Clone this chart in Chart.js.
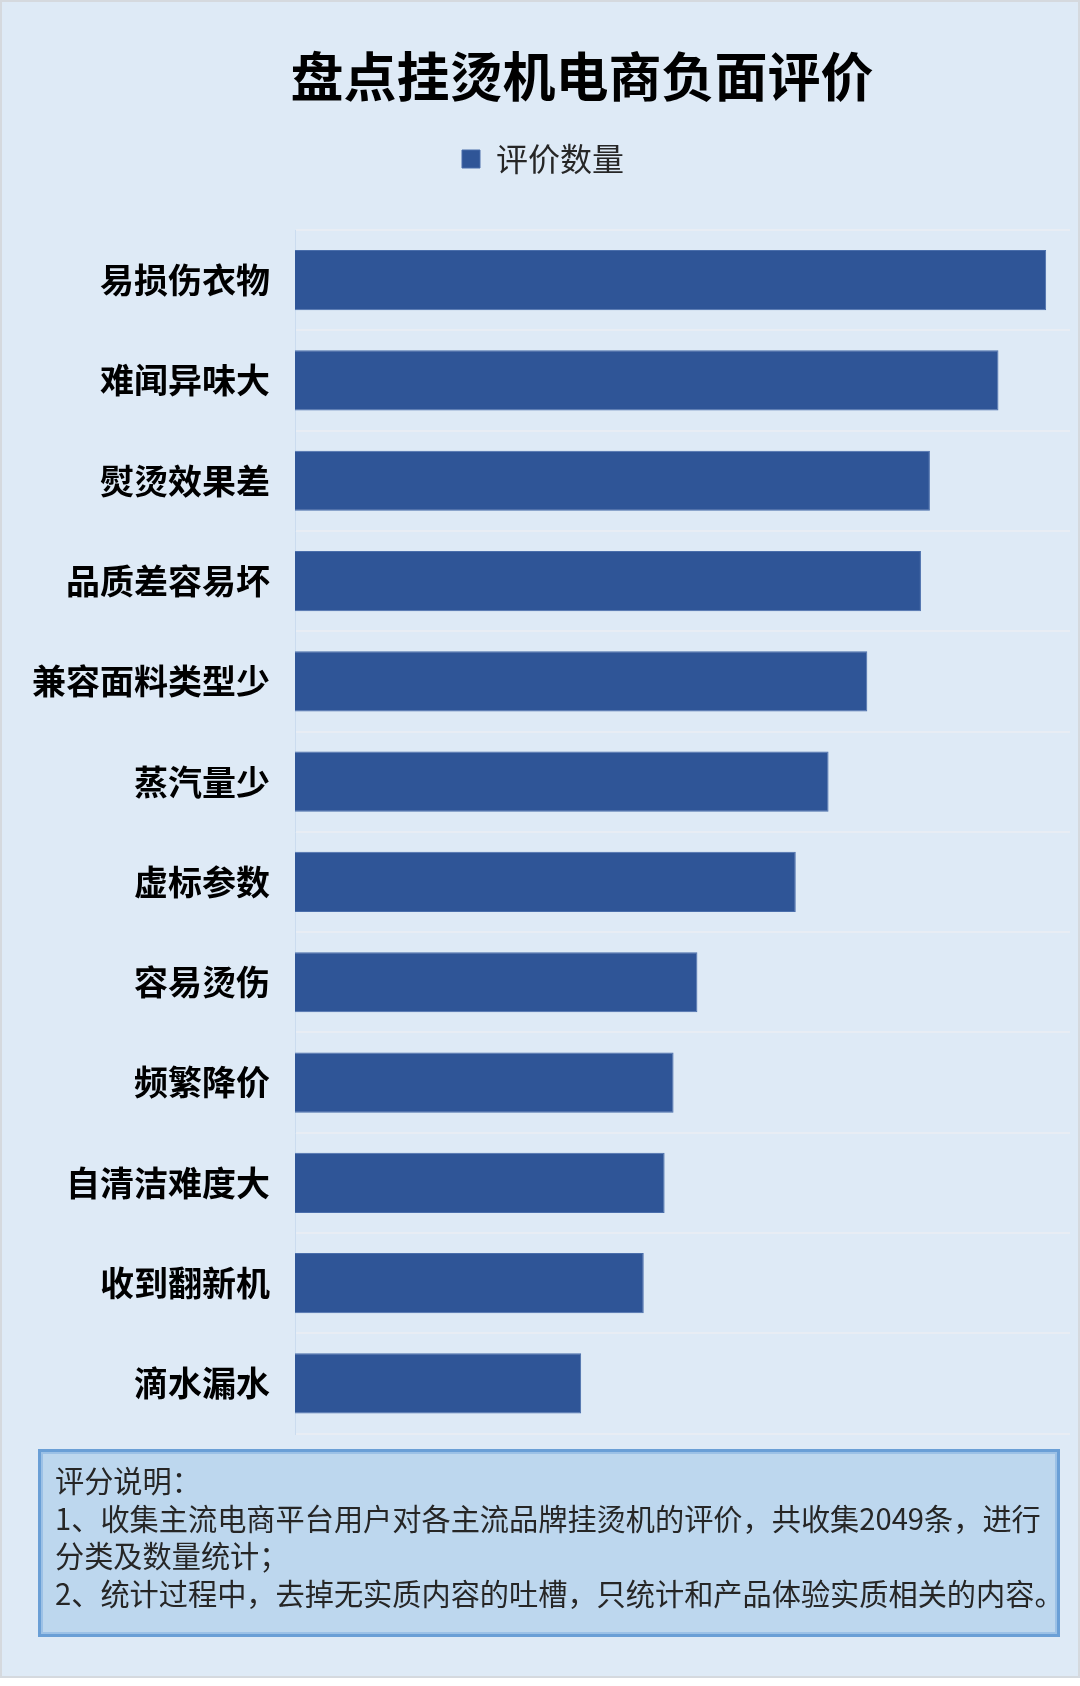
<!DOCTYPE html>
<html>
<head>
<meta charset="utf-8">
<script src="https://cdn.jsdelivr.net/npm/chart.js@4.4.1/dist/chart.umd.min.js"></script>
<style>
  body { margin: 0; background: #fff; }
  #panel {
    position: absolute; left: 0; top: 0;
    width: 1076px; height: 1674px;
    background: #deeaf6;
    border: 2px solid #d5d9de;
  }
  #chart-wrap { position: absolute; left: 0; top: 0; width: 1076px; height: 1477px; }
  #note {
    position: absolute; left: 36px; top: 1447px;
    width: 1022px; height: 188px;
    background: #bdd7ee;
    border: 3px solid #6a9fd6;
    box-shadow: inset 0 0 0 2px #9cc1e6;
    font-family: "Noto Sans CJK SC", sans-serif;
    font-size: 29.2px; line-height: 37.5px;
    color: #262626;
    padding: 9px 0 0 14px;
    box-sizing: border-box;
    white-space: nowrap;
  }
</style>
</head>
<body>
<div id="panel">
  <div id="chart-wrap"><canvas id="barChart"></canvas></div>
  <div id="note">评分说明：<br>1、收集主流电商平台用户对各主流品牌挂烫机的评价，共收集2049条，进行<br>分类及数量统计；<br>2、统计过程中，去掉无实质内容的吐槽，只统计和产品体验实质相关的内容。</div>
</div>
<script>
// data (total 2049 reviews)
const categories = ['易损伤衣物', '难闻异味大', '熨烫效果差', '品质差容易坏', '兼容面料类型少', '蒸汽量少',
    '虚标参数', '容易烫伤', '频繁降价', '自清洁难度大', '收到翻新机', '滴水漏水'];
const reviewCounts = [252, 236, 213, 210, 192, 179, 168, 135, 127, 124, 117, 96];
const seriesName = '评价数量';
const chartTitle = '盘点挂烫机电商负面评价';

const FONT = '"Noto Sans CJK SC", sans-serif';

// title is drawn a bit right of centre, like the original
const titlePlugin = {
    id: 'shiftedTitle',
    afterDraw(chart) {
        const ctx = chart.ctx;
        ctx.save();
        ctx.font = 'bold 53px ' + FONT;
        ctx.fillStyle = '#000';
        ctx.textAlign = 'center';
        ctx.textBaseline = 'middle';
        ctx.fillText(chartTitle, 580, 75);
        ctx.restore();
    }
};

const ctx = document.getElementById('barChart').getContext('2d');
const barChart = new Chart(ctx, {
    type: 'bar',
    data: {
        labels: categories,
        datasets: [{
            label: seriesName,
            data: reviewCounts,
            backgroundColor: '#2f5597',
            borderColor: '#4a6eab',
            borderWidth: 1,
            barPercentage: 0.6,
            categoryPercentage: 1
        }]
    },
    options: {
        indexAxis: 'y',
        responsive: true,
        maintainAspectRatio: false,
        animation: false,
        layout: { padding: { top: 141, left: 14, right: 8, bottom: 13 } },
        plugins: {
            title: { display: false },
            tooltip: { enabled: false },
            legend: {
                position: 'top',
                labels: {
                    boxWidth: 18,
                    boxHeight: 18,
                    padding: 0,
                    color: '#262626',
                    font: { family: FONT, size: 32 }
                }
            }
        },
        scales: {
            x: {
                position: 'top',
                min: 0,
                max: 260,
                ticks: { display: false },
                grid: { display: false },
                border: { display: false },
                afterFit(scale) { scale.height = 45; }
            },
            y: {
                ticks: {
                    color: '#000',
                    padding: 25,
                    font: { family: FONT, size: 34, weight: 'bold' }
                },
                grid: { color: '#e8edf4', lineWidth: 2, drawTicks: false },
                border: { color: '#cbdcef', width: 1 },
                afterFit(scale) { scale.width = 279; }
            }
        }
    },
    plugins: [titlePlugin]
});
</script>
</body>
</html>
